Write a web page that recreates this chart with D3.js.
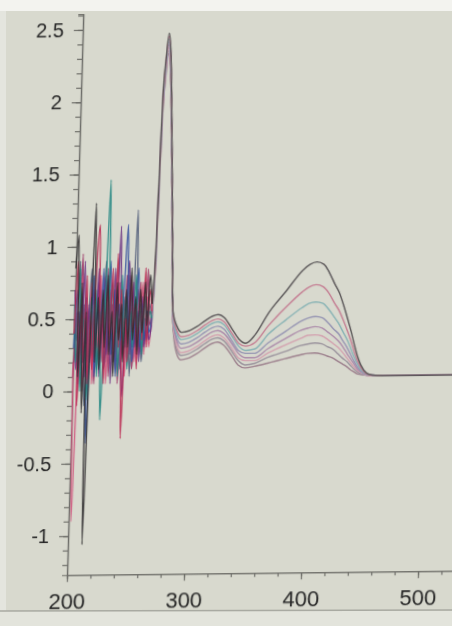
<!DOCTYPE html>
<html>
<head>
<meta charset="utf-8">
<script src="https://cdn.jsdelivr.net/npm/d3@7"></script>
<style>
html, body { margin: 0; padding: 0; background: #d8d9ce; overflow: hidden; }
svg { display: block; }
.axis text { font-family: "Liberation Sans", Arial, sans-serif; fill: #262626; }
.axis line, .axis path { stroke: #6f6f6a; stroke-width: 1.2; }
</style>
</head>
<body>
<div id="graphicContainer"></div>
<script>

// wavelength (nm) shared by every trace
const wavelength = [200,202,204,206,208,210,212,214,216,218,220,222,224,226,228,230,232,234,236,238,240,242,244,246,248,250,252,254,256,258,260,262,264,266,
	268,270,272,274,276,278,280,282,
	284,288,292,298,305,312,318,323,328,335,341,347,
	355,366,381,394,400,406,412,417,422,426,430,434,437,440,443,446,451,456,465,480,500,520,540]

// the first 34 points (200-266 nm) are the noisy part of the scan
const noisyPoints = 34

// absorbance, one array per trace (top to bottom at 410 nm)
const trace1 = [0.85,1.08,0.10,0.75,-0.15,0.55,-1.06,0.40,1.30,0.20,0.65,0.15,0.70,0.30,0.80,0.25,0.55,0.10,0.75,0.35,0.60,0.20,0.70,0.30,0.85,0.35,0.65,0.25,0.70,0.40,0.75,0.45,0.80,0.60,
	1.00,2.00,2.30,2.47,2.33,1.95,1.50,1.02,
	0.55,0.44,0.40,0.41,0.44,0.48,0.51,0.52,0.50,0.42,0.35,0.32,
	0.38,0.53,0.685,0.82,0.86,0.877,0.86,0.80,0.72,0.66,0.57,0.47,0.39,0.30,0.22,0.16,0.105,0.09,0.085,0.085,0.085,0.085,0.085]
const trace2 = [0.40,0.90,-0.10,0.60,0.20,0.80,0.05,0.55,0.15,0.90,1.15,0.25,0.60,0.05,0.75,0.35,0.85,0.20,0.95,0.30,0.70,-0.33,0.50,0.20,0.80,0.40,0.60,0.15,0.75,0.35,0.85,0.30,0.70,0.55,
	0.95,1.95,2.28,2.45,2.31,1.93,1.48,1.01,
	0.54,0.41,0.37,0.38,0.41,0.45,0.48,0.49,0.47,0.39,0.32,0.30,
	0.325,0.44,0.57,0.67,0.705,0.72,0.705,0.66,0.59,0.54,0.47,0.39,0.325,0.255,0.19,0.145,0.10,0.09,0.085,0.085,0.085,0.085,0.085]
const trace3 = [0.60,0.20,0.85,0.00,0.50,0.30,-0.06,0.65,0.25,0.70,0.10,0.55,-0.20,0.60,1.46,0.40,0.75,0.20,0.55,0.10,0.80,0.30,0.65,0.15,0.55,0.30,0.80,0.40,0.60,0.25,0.65,0.40,0.55,0.50,
	0.92,1.92,2.26,2.43,2.29,1.91,1.46,1.00,
	0.53,0.39,0.35,0.36,0.39,0.43,0.46,0.47,0.45,0.37,0.30,0.27,
	0.28,0.38,0.48,0.56,0.59,0.60,0.59,0.55,0.495,0.45,0.39,0.33,0.275,0.22,0.17,0.13,0.10,0.09,0.085,0.085,0.085,0.085,0.085]
const trace4 = [0.30,0.70,0.05,0.45,0.20,0.65,-0.36,0.35,0.80,0.10,0.60,0.30,0.85,0.15,0.50,0.90,0.25,0.70,0.10,0.60,0.35,0.75,1.15,0.40,0.70,0.20,0.55,0.85,0.30,0.60,0.35,0.55,0.40,0.50,
	0.90,1.90,2.24,2.41,2.27,1.90,1.45,0.99,
	0.52,0.36,0.32,0.33,0.36,0.40,0.43,0.44,0.42,0.34,0.27,0.25,
	0.25,0.32,0.40,0.47,0.49,0.50,0.49,0.455,0.41,0.38,0.33,0.28,0.235,0.19,0.15,0.12,0.095,0.09,0.085,0.085,0.085,0.085,0.085]
const trace5 = [0.70,0.15,0.55,0.25,0.90,0.10,0.60,0.20,0.70,0.35,0.85,0.10,0.50,0.80,0.25,0.60,0.05,0.85,0.40,1.14,0.30,-0.04,0.55,0.90,0.25,0.75,0.30,0.55,0.20,0.65,0.30,0.50,0.35,0.45,
	0.88,1.88,2.22,2.39,2.25,1.88,1.44,0.98,
	0.51,0.34,0.29,0.30,0.33,0.37,0.40,0.41,0.39,0.32,0.25,0.22,
	0.22,0.28,0.35,0.405,0.42,0.43,0.42,0.39,0.36,0.33,0.29,0.24,0.205,0.17,0.135,0.115,0.095,0.09,0.085,0.085,0.085,0.085,0.085]
const trace6 = [0.20,-0.90,0.40,0.80,0.05,0.45,0.25,0.75,0.05,0.50,0.30,0.80,0.20,0.55,0.05,0.70,0.40,0.60,0.15,0.75,0.20,0.50,0.10,0.65,0.40,0.70,0.20,0.60,0.35,0.75,0.25,0.65,0.30,0.50,
	0.86,1.86,2.20,2.37,2.23,1.86,1.42,0.97,
	0.50,0.31,0.26,0.27,0.30,0.34,0.37,0.38,0.36,0.29,0.22,0.20,
	0.20,0.25,0.305,0.35,0.37,0.373,0.365,0.34,0.31,0.285,0.25,0.21,0.18,0.15,0.125,0.11,0.09,0.085,0.085,0.085,0.085,0.085,0.085]
const trace7 = [0.50,0.35,0.90,0.15,0.60,-0.10,0.45,0.85,0.30,0.55,0.15,0.70,0.40,0.90,0.20,0.55,0.35,0.70,0.25,0.50,0.15,0.65,0.30,0.80,0.10,0.60,1.25,0.30,0.55,0.20,0.50,0.35,0.60,0.45,
	0.85,1.84,2.18,2.35,2.21,1.85,1.41,0.96,
	0.49,0.29,0.24,0.25,0.28,0.32,0.35,0.36,0.34,0.27,0.20,0.17,
	0.18,0.22,0.26,0.30,0.31,0.316,0.31,0.29,0.27,0.24,0.21,0.185,0.16,0.135,0.115,0.10,0.09,0.085,0.085,0.085,0.085,0.085,0.085]
const trace8 = [0.10,0.55,0.30,0.95,0.00,0.50,0.20,0.70,0.40,0.05,0.75,0.35,0.55,0.20,0.85,0.10,0.60,0.30,0.70,0.05,0.55,0.25,0.80,0.35,0.50,0.15,0.45,0.70,0.25,0.45,0.30,0.84,0.45,0.55,
	0.84,1.82,2.16,2.33,2.19,1.83,1.40,0.95,
	0.48,0.26,0.21,0.22,0.25,0.29,0.32,0.33,0.31,0.24,0.17,0.15,
	0.16,0.18,0.21,0.235,0.245,0.247,0.24,0.225,0.21,0.19,0.17,0.15,0.13,0.115,0.10,0.095,0.09,0.085,0.085,0.085,0.085,0.085,0.085]

const traces = [trace1, trace2, trace3, trace4, trace5, trace6, trace7, trace8]
// strong colours where the noisy scan piles up, washed out colours on the clean bands
const noiseColors = ["#2e2b2e", "#b8244e", "#1f8580", "#33509e", "#6a2f80", "#d0507a", "#4f5a78", "#9a2f62"]
const bandColors = ["#5a5658", "#c47d92", "#86b2b4", "#9594b2", "#ab8aa9", "#d3a0ae", "#9a929c", "#9c7f8c"]

const yTicks = [-1, -0.5, 0, 0.5, 1, 1.5, 2, 2.5]
const yTickLabels = ["-1", "-0.5", "0", "0.5", "1", "1.5", "2", "2.5"]
const xTicks = [200, 300, 400, 500]

var width = 452
var height = 626

var svg = d3.select("#graphicContainer").append("svg")
	.attr("width", width)
	.attr("height", height)

svg.append("defs").append("filter")
	.attr("id", "soft")
	.append("feGaussianBlur")
	.attr("stdDeviation", 0.5)

// paper
svg.append("rect").attr("width", width).attr("height", height).attr("fill", "#d8d9ce")
svg.append("rect").attr("x", 0).attr("y", 0).attr("width", 6).attr("height", height).attr("fill", "#e4e5de")

var x = d3.scaleLinear()
	.domain([200, 540])
	.range([67, 464.8])

var y = d3.scaleLinear()
	.domain([-1.27, 2.61])
	.range([575, 14])

// the photo is taken slightly off-axis, so shear the whole plot
var s = 0.029
var t = -0.011
var features = svg.append("g")
	.attr("transform", `matrix(1,${t},${-s},1,${s * 575},${-t * 67})`)
	.attr("filter", "url(#soft)")

// minor ticks
features.append("g")
	.attr("class", "axis")
	.attr("transform", `translate(${x(200)},0)`)
	.call(d3.axisLeft(y).tickValues(d3.range(-12, 27).map(i => i / 10)).tickSize(5).tickFormat(""))

features.append("g")
	.attr("class", "axis")
	.attr("transform", `translate(0,${y(-1.27)})`)
	.call(d3.axisBottom(x).tickValues(d3.range(200, 541, 20)).tickSize(4).tickFormat(""))

var yAxis = features.append("g")
	.attr("class", "axis")
	.attr("transform", `translate(${x(200)},0)`)
	.call(d3.axisLeft(y).tickValues(yTicks).tickSize(9).tickSizeOuter(0).tickPadding(10)
		.tickFormat((d, i) => yTickLabels[i]))
yAxis.selectAll("text").style("font-size", "20px")

var xAxis = features.append("g")
	.attr("class", "axis")
	.attr("transform", `translate(0,${y(-1.27)})`)
	.call(d3.axisBottom(x).tickValues(xTicks).tickSize(7).tickSizeOuter(0).tickPadding(11))
xAxis.selectAll("text").style("font-size", "22px")

var noiseLine = d3.line()
	.defined((d, i) => i < noisyPoints)
	.x((d, i) => x(wavelength[i]))
	.y(d => y(d))
	.curve(d3.curveMonotoneX)

var bandLine = d3.line()
	.defined((d, i) => i >= noisyPoints - 1)
	.x((d, i) => x(wavelength[i]))
	.y(d => y(d))
	.curve(d3.curveMonotoneX)

// bottom trace first so the dark top trace lies over the rest
var order = d3.range(traces.length).reverse()

order.forEach(function (idx) {
	features.append("path")
		.datum(traces[idx])
		.attr("d", bandLine)
		.attr("fill", "none")
		.attr("stroke", bandColors[idx])
		.attr("stroke-width", 1.4)
})

order.forEach(function (idx) {
	features.append("path")
		.datum(traces[idx])
		.attr("d", noiseLine)
		.attr("fill", "none")
		.attr("stroke", noiseColors[idx])
		.attr("stroke-width", 1.4)
		.attr("stroke-opacity", 0.85)
})

// white margin at the top of the photo and the lower edge of the sheet
svg.append("rect").attr("x", 0).attr("y", 0).attr("width", width).attr("height", 11).attr("fill", "#f3f3ef")
svg.append("rect").attr("x", 0).attr("y", 611).attr("width", width).attr("height", 15).attr("fill", "#e3e4dc")
svg.append("line").attr("x1", 0).attr("x2", width).attr("y1", 611).attr("y2", 610)
	.attr("stroke", "#a9aaa2").attr("stroke-width", 1.5)

</script>
</body>
</html>
